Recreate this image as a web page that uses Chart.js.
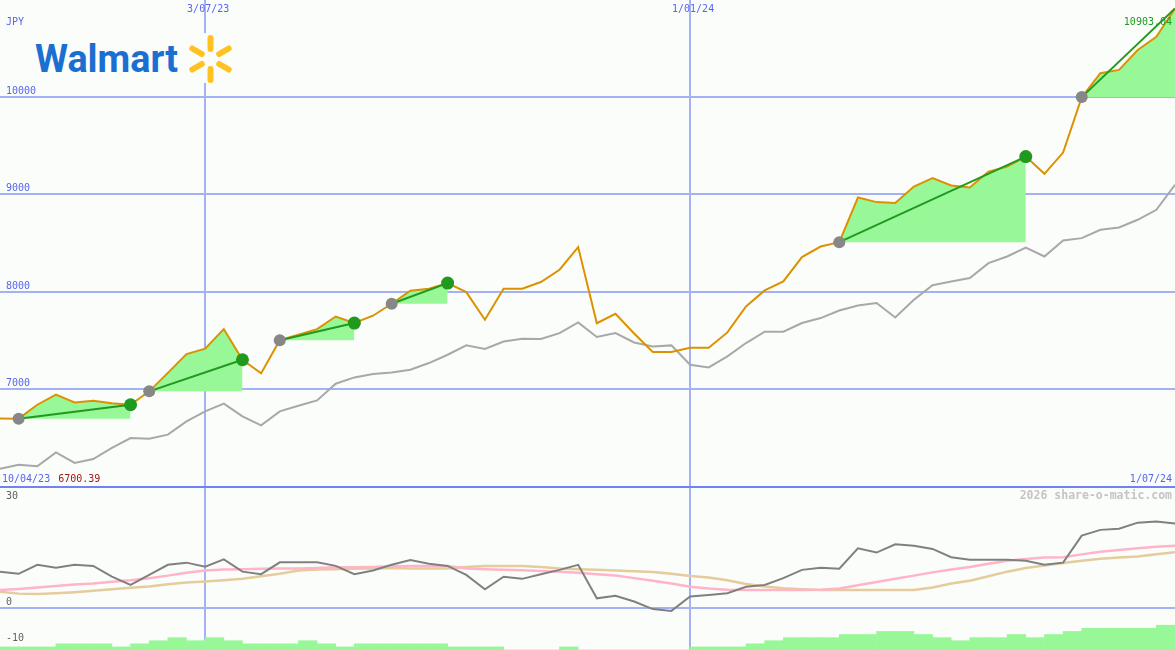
<!DOCTYPE html>
<html><head><meta charset="utf-8">
<script src="https://cdn.jsdelivr.net/npm/chart.js@4.4.1/dist/chart.umd.min.js"></script>
<style>
html,body{margin:0;padding:0;background:#fbfdfb;overflow:hidden}
#wrap{position:relative;width:1175px;height:650px;background:#fbfdfb}
#main{position:absolute;left:0;top:0}
#lower{position:absolute;left:0;top:487px}
#sep{position:absolute;left:0;top:486px;width:1175px;height:2px;background:#7282f2}
#logo{position:absolute;left:0;top:0}
</style></head>
<body><div id="wrap">
<canvas id="main" width="1175" height="487"></canvas>
<canvas id="lower" width="1175" height="163"></canvas>
<div id="sep"></div>
<svg id="logo" width="260" height="100" viewBox="0 0 260 100">
<rect x="30" y="33" width="212" height="50" fill="#fbfdfb"/>
<text x="35" y="72" font-family="Roboto, Arial, sans-serif" font-weight="700" font-size="39" fill="#1a6fd1" textLength="143" lengthAdjust="spacingAndGlyphs">Walmart</text>
<g stroke="#ffc220" stroke-width="6" stroke-linecap="round">
<line x1="210.5" y1="49" x2="210.5" y2="38"/>
<line x1="210.5" y1="69" x2="210.5" y2="80"/>
<line x1="201.8" y1="54" x2="192.3" y2="48.5"/>
<line x1="201.8" y1="64" x2="192.3" y2="69.5"/>
<line x1="219.2" y1="54" x2="228.7" y2="48.5"/>
<line x1="219.2" y1="64" x2="228.7" y2="69.5"/>
</g>
</svg>
</div>
<script>
// ---- data ----
const currency = 'JPY';
const startLabel = '10/04/23';
const endLabel = '1/07/24';
const dateIdx = [11, 37];
const dateLabels = ['3/07/23', '1/01/24'];
const priceGrid = [7000, 8000, 9000, 10000];
const oscLabels = [30, 0, -10];
const watermark = '2026 share-o-matic.com';

const price = [6702, 6700.39, 6843, 6946, 6867, 6884, 6857, 6843, 6980, 7169,
  7362, 7417, 7618, 7304, 7164, 7504, 7560, 7618, 7747, 7680,
  7755, 7878, 8011, 8031, 8089, 7997, 7714, 8031, 8031, 8100,
  8226, 8458, 7678, 7775, 7573, 7383, 7383, 7427, 7427, 7584,
  7850, 8014, 8106, 8356, 8464, 8509, 8966, 8919, 8909, 9079,
  9165, 9089, 9068, 9232, 9283, 9386, 9209, 9427, 9995, 10240,
  10274, 10478, 10614, 10903.04];

const compare = [6188, 6229, 6212, 6355, 6246, 6287, 6400, 6502, 6495, 6536,
  6672, 6775, 6854, 6724, 6631, 6775, 6833, 6887, 7058, 7123,
  7158, 7174, 7202, 7270, 7355, 7451, 7414, 7491, 7519, 7516,
  7577, 7686, 7537, 7577, 7481, 7440, 7451, 7253, 7225, 7338,
  7475, 7591, 7591, 7680, 7731, 7809, 7860, 7885, 7737, 7918,
  8067, 8106, 8141, 8294, 8362, 8454, 8362, 8526, 8550, 8635,
  8659, 8738, 8840, 9096];

const trendStarts = [1, 8, 15, 21, 45, 58];
const trendEnds = [7, 13, 19, 24, 55, 63];

const osc = [10.0, 9.4, 11.9, 11.1, 11.9, 11.6, 8.6, 6.3, 9.1, 11.9,
  12.5, 11.4, 13.4, 10.0, 9.3, 12.6, 12.6, 12.6, 11.6, 9.3,
  10.3, 11.9, 13.2, 12.2, 11.6, 9.1, 5.1, 8.6, 8.0, 9.3,
  10.5, 11.9, 2.6, 3.3, 1.7, -0.4, -0.9, 3.1, 3.5, 4.0,
  5.8, 6.3, 8.2, 10.5, 11.1, 10.8, 16.5, 15.3, 17.6, 17.2,
  16.3, 14.0, 13.3, 13.3, 13.3, 13.0, 11.9, 12.5, 20.0, 21.6,
  21.9, 23.6, 23.9, 23.4];

const oscFast = [4.9, 5.2, 5.6, 6.0, 6.4, 6.7, 7.2, 7.6, 8.2, 8.9,
  9.7, 10.3, 10.6, 10.7, 10.8, 10.9, 10.9, 11.0, 11.2, 11.2,
  11.3, 11.5, 11.6, 11.6, 11.6, 10.9, 10.7, 10.5, 10.4, 10.2,
  10.0, 9.7, 9.3, 8.9, 8.2, 7.5, 6.7, 5.8, 5.3, 5.0,
  4.9, 4.9, 4.9, 4.9, 5.0, 5.3, 6.2, 7.1, 8.0, 8.9,
  9.8, 10.6, 11.3, 12.2, 13.0, 13.5, 13.9, 14.0, 14.8, 15.5,
  16.0, 16.5, 16.9, 17.2];

const oscSlow = [4.4, 3.9, 3.8, 4.0, 4.3, 4.7, 5.1, 5.5, 5.9, 6.5,
  7.0, 7.3, 7.6, 8.0, 8.7, 9.4, 10.3, 10.6, 10.7, 10.8,
  10.9, 11.0, 10.9, 10.9, 10.9, 11.3, 11.6, 11.6, 11.6, 11.3,
  10.9, 10.7, 10.5, 10.3, 10.1, 9.9, 9.4, 8.8, 8.4, 7.6,
  6.6, 5.9, 5.4, 5.1, 4.9, 4.9, 4.9, 4.9, 4.9, 4.9,
  5.6, 6.7, 7.5, 8.7, 10.0, 11.0, 11.7, 12.4, 13.0, 13.6,
  13.9, 14.2, 14.8, 15.4];

const volume = [1, 1, 1, 2, 2, 2, 1, 2, 3, 4,
  3, 4, 3, 2, 2, 2, 3, 2, 1, 2,
  2, 2, 2, 2, 1, 1, 1, 0, 0, 0,
  1, 0, 0, 0, 0, 0, 0, 1, 1, 1,
  2, 3, 4, 4, 4, 5, 5, 6, 6, 5,
  4, 3, 4, 4, 5, 4, 5, 6, 7, 7,
  7, 7, 8];

// ---- styles ----
const BLUE = '#5566ee';
const GRID = '#a3b2f2';
const ORANGE = '#dc9200';
const GREEN = '#1f9a1f';
const FILL = '#98f898';
const FONT = '10px "DejaVu Sans Mono", monospace';

const pts = arr => arr.map((v, i) => ({x: i, y: v}));
const lastIdx = price.length - 1;

const mainSets = [];
mainSets.push({data: trendEnds.slice(0, -1).map(i => ({x: i, y: price[i]})), showLine: false,
  pointRadius: 6.5, pointBackgroundColor: GREEN, pointBorderWidth: 0, borderColor: 'rgba(0,0,0,0)'});
mainSets.push({data: trendStarts.map(i => ({x: i, y: price[i]})), showLine: false,
  pointRadius: 6, pointBackgroundColor: '#878787', pointBorderWidth: 0, borderColor: 'rgba(0,0,0,0)'});
trendStarts.forEach((s, k) => {
  const e = trendEnds[k];
  mainSets.push({data: [{x: s, y: price[s]}, {x: e, y: price[e]}], borderColor: GREEN, borderWidth: 2, pointRadius: 0});
});
mainSets.push({data: pts(price), borderColor: ORANGE, borderWidth: 2, pointRadius: 0});
mainSets.push({data: pts(compare), borderColor: '#a8a8a8', borderWidth: 2, pointRadius: 0});
trendStarts.forEach((s, k) => {
  const e = trendEnds[k];
  const seg = [];
  for (let i = s; i <= e; i++) seg.push({x: i, y: price[i]});
  mainSets.push({data: seg, borderColor: 'rgba(0,0,0,0)', borderWidth: 1, pointRadius: 0,
    fill: {value: price[s]}, backgroundColor: FILL});
});

const mainLabels = {
  id: 'mainLabels',
  afterDraw(chart) {
    const {ctx, chartArea: a, scales: {x, y}} = chart;
    ctx.save();
    ctx.font = FONT;
    ctx.textBaseline = 'alphabetic';
    ctx.fillStyle = BLUE;
    ctx.textAlign = 'left';
    priceGrid.forEach(v => ctx.fillText(String(v), a.left + 6, y.getPixelForValue(v) - 3));
    ctx.fillText(currency, a.left + 6, a.top + 25);
    ctx.textAlign = 'center';
    dateIdx.forEach((d, i) => ctx.fillText(dateLabels[i], x.getPixelForValue(d) + 3, a.top + 12));
    ctx.textAlign = 'left';
    ctx.fillText(startLabel, a.left + 2, a.bottom - 5);
    const w = ctx.measureText(startLabel + ' ').width;
    ctx.fillStyle = '#a01818';
    ctx.fillText(Math.min(...price).toFixed(2), a.left + 2 + w + 2, a.bottom - 5);
    ctx.fillStyle = BLUE;
    ctx.textAlign = 'right';
    ctx.fillText(endLabel, a.right - 3, a.bottom - 5);
    ctx.fillStyle = GREEN;
    ctx.fillText(price[lastIdx].toFixed(2), a.right - 3, a.top + 25);
    ctx.restore();
  }
};

const common = {
  responsive: false, animation: false, events: [],
  layout: {padding: 0, autoPadding: false},
  plugins: {legend: {display: false}, tooltip: {enabled: false}},
  elements: {line: {tension: 0}}
};

const xScale = () => ({
  type: 'linear', min: 0, max: lastIdx, offset: false,
  ticks: {display: false}, border: {display: false},
  grid: {color: GRID, lineWidth: 2, drawTicks: false, offset: false},
  afterBuildTicks: s => { s.ticks = dateIdx.map(v => ({value: v})); }
});

new Chart(document.getElementById('main'), {
  type: 'line',
  data: {datasets: mainSets},
  options: Object.assign({}, common, {
    scales: {
      x: xScale(),
      y: {type: 'linear', min: 6000, max: 10990,
        ticks: {display: false}, border: {display: false},
        grid: {color: GRID, lineWidth: 2, drawTicks: false},
        afterBuildTicks: s => { s.ticks = priceGrid.map(v => ({value: v})); }}
    }
  }),
  plugins: [mainLabels]
});

const lowerLabels = {
  id: 'lowerLabels',
  afterDraw(chart) {
    const {ctx, chartArea: a, scales: {y}} = chart;
    ctx.save();
    ctx.textBaseline = 'alphabetic';
    ctx.font = 'bold 11.5px "DejaVu Sans Mono", monospace';
    ctx.fillStyle = '#c4c4c4';
    ctx.textAlign = 'right';
    ctx.fillText(watermark, a.right - 3, a.top + 12);
    ctx.font = FONT;
    ctx.fillStyle = '#606060';
    ctx.textAlign = 'left';
    oscLabels.forEach(v => {
      const py = Math.max(a.top + 12, Math.min(y.getPixelForValue(v) - 3, a.bottom - 4));
      ctx.fillText(String(v), a.left + 6, py);
    });
    ctx.restore();
  }
};

new Chart(document.getElementById('lower'), {
  type: 'line',
  data: {datasets: [
    {data: pts(osc), borderColor: '#808080', borderWidth: 2, pointRadius: 0},
    {data: pts(oscFast), borderColor: '#ffb4c8', borderWidth: 2.5, pointRadius: 0},
    {data: pts(oscSlow), borderColor: '#e4cc9c', borderWidth: 2.5, pointRadius: 0},
    {type: 'bar', data: volume.map((v, i) => ({x: i + 0.5, y: v})), yAxisID: 'yv',
      backgroundColor: FILL, borderWidth: 0, barPercentage: 1, categoryPercentage: 1}
  ]},
  options: Object.assign({}, common, {
    scales: {
      x: xScale(),
      y: {type: 'linear', min: -11.75, max: 33.5,
        ticks: {display: false}, border: {display: false},
        grid: {color: GRID, lineWidth: 2, drawTicks: false},
        afterBuildTicks: s => { s.ticks = [{value: 0}]; }},
      yv: {type: 'linear', min: 0, max: 52.6, display: false}
    }
  }),
  plugins: [lowerLabels]
});
</script>
</body></html>
